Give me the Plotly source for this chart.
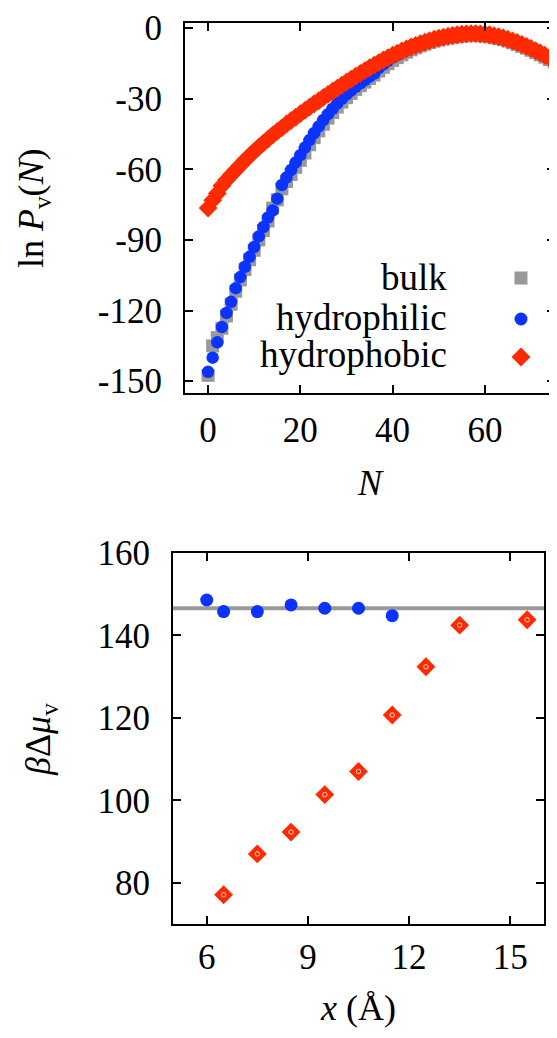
import plotly.graph_objects as go

# ---------------- data ----------------
N = list(range(76))

lnP_bulk = [-147.5, -135.0, -131.5, -127.5, -122.3, -117.3, -111.8, -107.0, -102.6, -98.4,
            -94.4, -90.0, -86.0, -82.0, -76.5, -73.0, -68.3, -65.2, -62.2, -59.2,
            -56.2, -53.1, -49.6, -46.6, -43.7, -40.9, -38.3, -35.9, -33.6, -31.5,
            -29.6, -27.8, -26.1, -24.5, -23.0, -21.5, -20.0, -18.3, -16.7, -15.2,
            -13.8, -12.6, -11.4, -10.3, -9.3, -8.4, -7.6, -6.9, -6.2, -5.6,
            -5.1, -4.7, -4.3, -4.0, -3.7, -3.5, -3.3, -3.2, -3.2, -3.3,
            -3.5, -3.7, -4.1, -4.5, -5.0, -5.6, -6.3, -7.0, -7.8, -8.6,
            -9.5, -10.4, -11.4, -12.4, -13.4, -14.4]

lnP_phil = [-146.0, -140.0, -133.5, -127.0, -121.0, -116.3, -110.5, -105.8, -101.4, -97.2,
            -93.0, -88.5, -84.5, -80.5, -77.5, -72.5, -66.7, -63.5, -60.3, -57.1,
            -54.0, -50.8, -47.6, -44.6, -41.8, -39.1, -36.6, -34.3, -32.1, -30.1,
            -28.3, -26.6, -25.0, -23.5, -22.1, -20.7, -19.4, -17.0, -15.5, -14.0,
            -12.6, -11.5, -10.4, -9.4, -8.5, -7.7, -7.0, -6.3, -5.7, -5.1,
            -4.6, -4.2, -3.8, -3.5, -3.2, -3.0, -2.8, -2.7, -2.7, -2.8,
            -3.0, -3.2, -3.6, -4.0, -4.5, -5.1, -5.8, -6.5, -7.3, -8.1,
            -9.0, -9.9, -10.9, -11.9, -12.9, -13.9]

lnP_phob = [-76.5, -73.2, -70.3, -67.0, -64.6, -62.4, -60.3, -58.3, -56.2, -54.3,
            -52.4, -50.6, -48.9, -47.2, -45.5, -43.9, -42.4, -40.8, -39.3, -37.9,
            -36.4, -35.0, -33.6, -32.2, -30.9, -29.5, -28.2, -26.9, -25.6, -24.3,
            -23.0, -21.8, -20.5, -19.3, -18.1, -16.9, -15.8, -14.7, -13.6, -12.6,
            -11.6, -10.7, -9.8, -8.9, -8.1, -7.4, -6.7, -6.0, -5.4, -4.8,
            -4.3, -3.9, -3.5, -3.2, -2.9, -2.7, -2.5, -2.4, -2.4, -2.5,
            -2.7, -2.9, -3.3, -3.7, -4.2, -4.8, -5.5, -6.2, -7.0, -7.8,
            -8.7, -9.6, -10.6, -11.6, -12.6, -13.6]

x_phil = [6.0, 6.5, 7.5, 8.5, 9.5, 10.5, 11.5]
mu_phil = [148.6, 145.8, 145.8, 147.4, 146.6, 146.6, 144.8]
x_phob = [6.5, 7.5, 8.5, 9.5, 10.5, 11.5, 12.5, 13.5, 15.5]
mu_phob = [77.1, 87.0, 92.3, 101.4, 107.0, 120.7, 132.4, 142.5, 143.8]
mu_bulk = 146.6

top_xticks = [0, 20, 40, 60]
top_yticks = [0, -30, -60, -90, -120, -150]
top_yticktext = ["0", "-30", "-60", "-90", "-120", "-150"]
bot_xticks = [6, 9, 12, 15]
bot_yticks = [80, 100, 120, 140, 160]
legend_names = ["bulk", "hydrophilic", "hydrophobic"]

# ---------------- style ----------------
OFF = 8                      # default page body margin
W, H = 557 - OFF, 1038 - OFF
GRAY = "#999999"
BLUE = "#0a33ff"
RED = "#ff2a00"
FONT = "Liberation Serif"
FS = 35
FS_T = 36
FS_L = 37


def px(x):
    return (x - OFF) / W


def py(y):
    return 1 - (y - OFF) / H


fig = go.Figure()

# top panel
fig.add_trace(go.Scatter(x=N, y=lnP_bulk, mode="markers", xaxis="x", yaxis="y",
                         marker=dict(symbol="square", size=13, color=GRAY)))
fig.add_trace(go.Scatter(x=N, y=lnP_phil, mode="markers", xaxis="x", yaxis="y",
                         marker=dict(symbol="circle", size=12.5, color=BLUE)))
fig.add_trace(go.Scatter(x=N, y=lnP_phob, mode="markers", xaxis="x", yaxis="y",
                         marker=dict(symbol="diamond", size=14.5, color=RED)))

# bottom panel
fig.add_trace(go.Scatter(x=x_phil, y=mu_phil, mode="markers", xaxis="x2", yaxis="y2",
                         marker=dict(symbol="circle", size=13, color=BLUE)))
fig.add_trace(go.Scatter(x=x_phob, y=mu_phob, mode="markers", xaxis="x2", yaxis="y2",
                         marker=dict(symbol="diamond", size=14.5, color=RED)))
fig.add_trace(go.Scatter(x=x_phob, y=mu_phob, mode="markers", xaxis="x2", yaxis="y2",
                         marker=dict(symbol="circle-open", size=4.5, color="white",
                                     line=dict(width=0.8, color="white"))))

axis_common = dict(showline=True, linecolor="black", linewidth=2, mirror="allticks",
                   ticks="inside", ticklen=8, tickwidth=1.5, tickcolor="black",
                   showgrid=False, zeroline=False, automargin=False,
                   tickfont=dict(family=FONT, size=FS, color="black"))

fig.update_layout(
    width=W, height=H, autosize=False,
    margin=dict(l=0, r=0, t=0, b=0, pad=0, autoexpand=False),
    paper_bgcolor="white", plot_bgcolor="white",
    showlegend=False,
    xaxis=dict(domain=[px(185), px(555)], range=[-5, 75.2], anchor="y",
               tickvals=top_xticks, ticklabelstandoff=5, **axis_common),
    yaxis=dict(domain=[py(393), py(23)], range=[-155, 2.1], anchor="x",
               tickvals=top_yticks, ticktext=top_yticktext, ticklabelstandoff=14,
               **axis_common),
    xaxis2=dict(domain=[px(173), px(544)], range=[5, 16], anchor="y2",
                tickvals=bot_xticks, ticklabelstandoff=1, **axis_common),
    yaxis2=dict(domain=[py(924), py(553)], range=[70, 160], anchor="x2",
                tickvals=bot_yticks, ticklabelstandoff=14, **axis_common),
)

# bulk reference line in bottom panel
fig.add_shape(type="line", xref="x2 domain", yref="y2", x0=0, x1=1, y0=mu_bulk, y1=mu_bulk,
              line=dict(color=GRAY, width=4), layer="below")

# axis titles
tf = dict(family=FONT, size=FS_T, color="black")
ann = dict(xref="paper", yref="paper", xanchor="center", yanchor="middle",
           showarrow=False, font=tf)
fig.add_annotation(x=px(33), y=py(208), textangle=-90,
                   text="ln <i>P</i><sub>v</sub>(<i>N</i>)", **ann)
fig.add_annotation(x=px(370), y=py(483), text="<i>N</i>", **ann)
fig.add_annotation(x=px(40), y=py(740), textangle=-90,
                   text="<i>β</i>Δ<i>μ</i><sub>v</sub>", **ann)
fig.add_annotation(x=px(358), y=py(1008), text="<i>x</i> (Å)", **ann)

# legend (text right-aligned, key on the right)
lf = dict(family=FONT, size=FS_L, color="black")
leg_y = [277, 317, 354]
for name, yy in zip(legend_names, leg_y):
    fig.add_annotation(x=px(449), y=py(yy), xref="paper", yref="paper", xanchor="right",
                       yanchor="middle", text=name, showarrow=False, font=lf)

kx = 521
# square
fig.add_shape(type="rect", xref="paper", yref="paper", x0=px(kx - 6.5), x1=px(kx + 6.5),
              y0=py(278 + 6.5), y1=py(278 - 6.5), fillcolor=GRAY, line=dict(width=0))
# circle
fig.add_shape(type="circle", xref="paper", yref="paper", x0=px(kx - 6.5), x1=px(kx + 6.5),
              y0=py(319 + 6.5), y1=py(319 - 6.5), fillcolor=BLUE, line=dict(width=0))
# diamond
dy = 357
d = 9.5
path = (f"M {px(kx)} {py(dy - d)} L {px(kx + d)} {py(dy)} "
        f"L {px(kx)} {py(dy + d)} L {px(kx - d)} {py(dy)} Z")
fig.add_shape(type="path", xref="paper", yref="paper", path=path, fillcolor=RED,
              line=dict(width=0))

fig.write_html("out.html")
